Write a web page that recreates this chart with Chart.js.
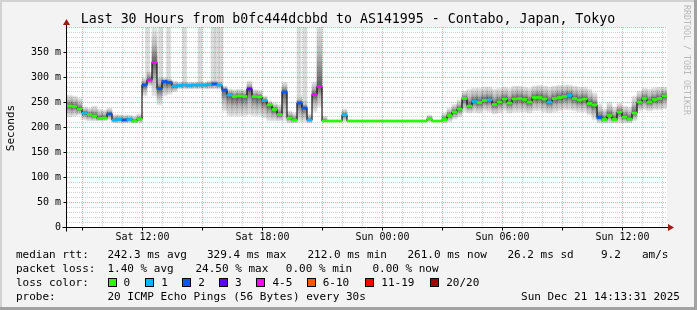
<!DOCTYPE html>
<html>
<head>
<meta charset="utf-8">
<script src="https://cdn.jsdelivr.net/npm/chart.js@4.4.1/dist/chart.umd.min.js"></script>
<style>
  html, body { margin:0; padding:0; background:#f3f3f3; }
  #wrap { position:relative; width:697px; height:310px; background:#f3f3f3; overflow:hidden;
          font-family:'DejaVu Sans Mono', monospace; color:#000; }
  #wrap canvas { position:absolute; left:0; top:0; }
  .t { position:absolute; white-space:pre; font-size:11px; line-height:14px; }
  .box { position:absolute; width:9px; height:9px; box-sizing:border-box; border:1px solid #000; }
  .edge { position:absolute; }
</style>
</head>
<body>
<div id="wrap">
  <canvas id="smoke" width="697" height="310"></canvas>

  <div class="t" style="left:0;top:11px;width:696px;text-align:center;font-size:13.25px;line-height:15px;">Last 30 Hours from b0fc444dcbbd to AS141995 - Contabo, Japan, Tokyo</div>
  <div class="t" style="left:-39.5px;top:120.5px;width:100px;text-align:center;transform:rotate(-90deg);">Seconds</div>
  <div class="t" style="left:692px;top:5px;font-size:8.3px;line-height:10px;color:#b9b9b9;transform:rotate(90deg);transform-origin:left top;">RRDTOOL / TOBI OETIKER</div>

  <div class="t" style="left:16px;top:247.5px;">median rtt:</div>
  <div class="t" style="left:107.5px;top:247.5px;">242.3 ms avg</div>
  <div class="t" style="left:207px;top:247.5px;">329.4 ms max</div>
  <div class="t" style="left:307.5px;top:247.5px;">212.0 ms min</div>
  <div class="t" style="left:407.5px;top:247.5px;">261.0 ms now</div>
  <div class="t" style="left:507.5px;top:247.5px;">26.2 ms sd</div>
  <div class="t" style="left:601px;top:247.5px;">9.2</div>
  <div class="t" style="left:642px;top:247.5px;">am/s</div>

  <div class="t" style="left:16px;top:261.5px;">packet loss:</div>
  <div class="t" style="left:107.5px;top:261.5px;">1.40 % avg</div>
  <div class="t" style="left:195.5px;top:261.5px;">24.50 % max</div>
  <div class="t" style="left:285.8px;top:261.5px;">0.00 % min</div>
  <div class="t" style="left:372.4px;top:261.5px;">0.00 % now</div>

  <div class="t" style="left:16px;top:275.5px;">loss color:</div>
  <div id="losslegend"></div>

  <div class="t" style="left:16px;top:289.5px;">probe:</div>
  <div class="t" style="left:107.5px;top:289.5px;">20 ICMP Echo Pings (56 Bytes) every 30s</div>
  <div class="t" style="right:17px;top:289.5px;">Sun Dec 21 14:13:31 2025</div>

  <div class="edge" style="left:0;top:0;width:697px;height:2px;background:#d2d2d2;"></div>
  <div class="edge" style="left:0;top:0;width:2px;height:310px;background:#d2d2d2;"></div>
  <div class="edge" style="left:694px;top:0;width:3px;height:310px;background:#a2a2a2;"></div>
  <div class="edge" style="left:0;top:307px;width:697px;height:3px;background:#a2a2a2;"></div>
</div>

<script>
// 30 hours, one sample every 15 min, starting Sat 08:13:30 (hours counted from Sat 00:00)
var startHour = 8.225;
var stepHours = 0.25;

// median rtt in ms
var median = [
  242,241,236,228,225,222,217,218,226,214,
  215,214,215,212,216,284,294,329,277,291,
  289,282,283,284,283,284,284,284,285,286,
  284,274,264,261,262,261,276,261,260,253,
  244,235,225,270,218,214,248,238,214,265,
  281,212,212,212,212,224,212,212,212,212,
  212,212,212,212,212,212,212,212,212,212,
  212,212,216,212,212,215,223,230,236,257,
  242,251,249,253,254,245,250,256,248,256,
  257,255,250,259,259,256,250,257,259,261,
  263,257,254,256,247,244,219,215,223,215,
  230,220,216,228,250,257,250,255,257,262
];

// lost pings out of 20
var loss = [
  0,0,0,1,0,0,0,0,2,1,
  1,2,1,0,0,2,4,4,2,2,
  2,1,1,1,1,1,1,1,1,2,
  1,2,1,0,0,0,3,0,0,1,
  0,0,0,2,0,0,2,2,1,4,
  4,0,0,0,0,1,0,0,0,0,
  0,0,0,0,0,0,0,0,0,0,
  0,0,0,0,0,0,0,0,0,0,
  0,1,0,0,1,0,0,0,0,0,
  0,0,0,0,0,0,1,0,0,0,
  1,0,0,0,0,0,2,0,0,0,
  0,0,0,0,0,0,0,0,0,0
];

// smoke: lowest and highest ping of each sample (ms)
var smokeLo = [
  220,222,224,214,212,212,212,212,214,208,
  208,208,208,208,208,262,282,262,244,262,
  265,270,276,276,276,276,276,276,276,276,
  276,232,222,222,222,222,224,222,222,218,
  212,212,212,212,208,208,210,210,208,230,
  240,210,211,211,211,210,211,211,211,211,
  211,211,211,211,211,211,211,211,211,211,
  211,211,210,211,211,208,210,216,220,230,
  228,230,228,232,230,226,228,232,228,230,
  230,230,228,232,232,230,228,230,232,234,
  234,232,230,230,224,214,208,208,208,208,
  208,208,208,212,232,234,232,234,234,236
];
var smokeHi = [
  264,262,258,240,238,242,236,234,238,225,
  225,224,224,222,226,298,310,400,298,298,
  296,292,290,290,290,290,290,290,292,292,
  290,282,276,275,276,275,292,275,274,262,
  252,248,245,290,232,228,262,252,226,290,
  420,222,213,213,213,236,213,213,213,213,
  213,213,213,213,213,213,213,213,213,213,
  213,213,224,213,213,228,238,246,254,272,
  276,278,278,280,280,276,278,280,278,282,
  282,280,278,282,284,282,280,282,284,284,
  284,282,280,280,276,268,246,236,250,240,
  248,242,240,262,272,278,276,278,280,280
];

// single pings far above the scale (hour, lowest ms of the streak)
var peakHours = [12.25, 12.9, 13.3, 14.1, 14.875, 15.525, 15.725, 15.925, 19.825, 20.125];
var peakLows  = [300, 292, 292, 288, 288, 288, 288, 288, 262, 250];

var lossLabels = ['0','1','2','3','4-5','6-10','11-19','20/20'];
var lossColors = ['#26ff00','#00b8ff','#0059ff','#5e00ff','#ff00ff','#ff5500','#ff0000','#a10000'];

var tickHours  = [12, 18, 24, 30, 36];
var tickLabels = ['Sat 12:00','Sat 18:00','Sun 00:00','Sun 06:00','Sun 12:00'];

function lossBucket(n) {
  if (n <= 3) return n;
  if (n <= 5) return 4;
  if (n <= 10) return 5;
  if (n <= 19) return 6;
  return 7;
}

// legend boxes
var legendX = [107.5, 145.3, 182.2, 219.1, 256.4, 306.7, 365.3, 430.2];
var lg = document.getElementById('losslegend');
for (var k = 0; k < lossLabels.length; k++) {
  var b = document.createElement('div');
  b.className = 'box';
  b.style.left = legendX[k] + 'px';
  b.style.top = '278px';
  b.style.background = lossColors[k];
  lg.appendChild(b);
  var l = document.createElement('div');
  l.className = 't';
  l.style.left = (legendX[k] + 16) + 'px';
  l.style.top = '275.5px';
  l.textContent = lossLabels[k];
  lg.appendChild(l);
}

var smokeData = [], blockData = [], lineData = [];
for (var i = 0; i < median.length; i++) {
  var t0 = startHour + i * stepHours;
  smokeData.push({x: t0 + stepHours / 2, y: [smokeLo[i], smokeHi[i]]});
  blockData.push({x: t0 + stepHours / 2, y: [median[i] - 2, median[i] + 2]});
  lineData.push({x: t0, y: median[i]});
}
lineData.push({x: startHour + median.length * stepHours, y: median[median.length - 1]});

var peakData = peakHours.map(function(h, k) { return {x: h, y: [peakLows[k], 400]}; });

// grey shade, darkest at the median
var smokeFill = function(c) {
  var chart = c.chart;
  if (c.type !== 'data' || !chart.scales.y) return 'rgba(0,0,0,0.2)';
  var y = chart.scales.y, i = c.dataIndex;
  var top = y.getPixelForValue(smokeHi[i]), bot = y.getPixelForValue(smokeLo[i]), mid = y.getPixelForValue(median[i]);
  if (!isFinite(top) || !isFinite(bot) || bot - top < 1) return 'rgba(0,0,0,0.2)';
  var m = Math.min(1, Math.max(0, (mid - top) / (bot - top)));
  var g = chart.ctx.createLinearGradient(0, top, 0, bot);
  g.addColorStop(0, 'rgba(0,0,0,0.09)');
  g.addColorStop(m * 0.5, 'rgba(0,0,0,0.27)');
  g.addColorStop(m, 'rgba(0,0,0,0.62)');
  g.addColorStop(m + (1 - m) * 0.5, 'rgba(0,0,0,0.27)');
  g.addColorStop(1, 'rgba(0,0,0,0.09)');
  return g;
};

var rrdLook = {
  id: 'rrdLook',
  beforeDraw: function(chart) {
    var a = chart.chartArea, c = chart.ctx;
    c.save();
    c.fillStyle = '#ffffff';
    c.fillRect(a.left, a.top, a.right - a.left, a.bottom - a.top);
    c.restore();
  },
  beforeDatasetsDraw: function(chart) {
    var a = chart.chartArea, c = chart.ctx, x = chart.scales.x, y = chart.scales.y;
    c.save();
    c.lineWidth = 1;
    c.setLineDash([1, 1]);
    for (var h = Math.ceil(x.min); h <= x.max; h++) {
      var px = Math.floor(x.getPixelForValue(h)) + 0.5;
      c.strokeStyle = (h % 3 === 0) ? 'rgba(240,110,110,0.6)' : 'rgba(150,150,150,0.45)';
      c.beginPath(); c.moveTo(px, a.top); c.lineTo(px, a.bottom); c.stroke();
    }
    for (var v = 10; v <= 400; v += 10) {
      var py = Math.floor(y.getPixelForValue(v)) + 0.5;
      c.strokeStyle = (v % 50 === 0) ? 'rgba(240,110,110,0.6)' : 'rgba(150,150,150,0.45)';
      c.beginPath(); c.moveTo(a.left, py); c.lineTo(a.right, py); c.stroke();
    }
    c.restore();
  },
  afterDatasetsDraw: function(chart) {
    var a = chart.chartArea, c = chart.ctx, x = chart.scales.x, y = chart.scales.y;
    var ax = a.left - 0.5, ay = a.bottom + 0.5;
    c.save();
    c.setLineDash([]);
    c.strokeStyle = '#000';
    c.lineWidth = 1;
    c.beginPath();
    c.moveTo(ax, ay + 4); c.lineTo(ax, a.top - 4);
    c.moveTo(ax - 4, ay); c.lineTo(a.right + 3, ay);
    for (var v = 0; v < 400; v += 50) {
      var py = Math.floor(y.getPixelForValue(v)) + 0.5;
      c.moveTo(ax - 3, py); c.lineTo(ax, py);
    }
    for (var h = Math.ceil(x.min); h <= x.max; h++) {
      if (h % 3 !== 0) continue;
      var px = Math.floor(x.getPixelForValue(h)) + 0.5;
      c.moveTo(px, ay); c.lineTo(px, ay + 3);
    }
    c.stroke();
    c.fillStyle = '#a01818';
    c.beginPath();
    c.moveTo(ax - 3.5, a.top - 2); c.lineTo(ax + 3.5, a.top - 2); c.lineTo(ax, a.top - 8); c.closePath();
    c.fill();
    c.beginPath();
    c.moveTo(a.right + 1, ay - 3.5); c.lineTo(a.right + 1, ay + 3.5); c.lineTo(a.right + 7, ay); c.closePath();
    c.fill();
    c.restore();
  }
};

var monoTicks = {family: 'DejaVu Sans Mono', size: 10};

var chart = new Chart(document.getElementById('smoke'), {
  type: 'bar',
  data: {
    datasets: [
      {type: 'bar', label: 'peaks', data: peakData, backgroundColor: 'rgba(0,0,0,0.14)',
       barThickness: 4, grouped: false, borderWidth: 0, order: 5},
      {type: 'bar', label: 'smoke', data: smokeData, backgroundColor: smokeFill,
       barThickness: 5, grouped: false, borderWidth: 0, order: 4},
      {type: 'line', label: 'median', data: lineData, stepped: true, borderColor: '#000',
       borderWidth: 1, pointRadius: 0, fill: false, order: 2},
      {type: 'bar', label: 'loss', data: blockData, borderWidth: 0, barThickness: 5, grouped: false, order: 1,
       backgroundColor: function(c) { return lossColors[lossBucket(loss[c.dataIndex] || 0)]; }}
    ]
  },
  options: {
    responsive: false,
    animation: false,
    devicePixelRatio: 1,
    layout: {padding: {left: 0, top: 27, right: 30, bottom: 63}},
    plugins: {legend: {display: false}, tooltip: {enabled: false}},
    scales: {
      x: {
        type: 'linear', min: startHour, max: startHour + 30, offset: false,
        afterBuildTicks: function(s) { s.ticks = tickHours.map(function(h) { return {value: h}; }); },
        afterFit: function(s) { s.height = 20; },
        ticks: {autoSkip: false, maxRotation: 0, padding: 4, font: monoTicks, color: '#000',
                callback: function(v, idx) { return tickLabels[idx]; }},
        grid: {display: false, drawTicks: false},
        border: {display: false}
      },
      y: {
        type: 'linear', min: 0, max: 400,
        afterFit: function(s) { s.width = 67; },
        ticks: {stepSize: 50, padding: 6, font: monoTicks, color: '#000',
                callback: function(v) { return v === 0 ? '0' : (v >= 400 ? '' : v + ' m'); }},
        grid: {display: false, drawTicks: false},
        border: {display: false}
      }
    }
  },
  plugins: [rrdLook]
});
</script>
</body>
</html>
